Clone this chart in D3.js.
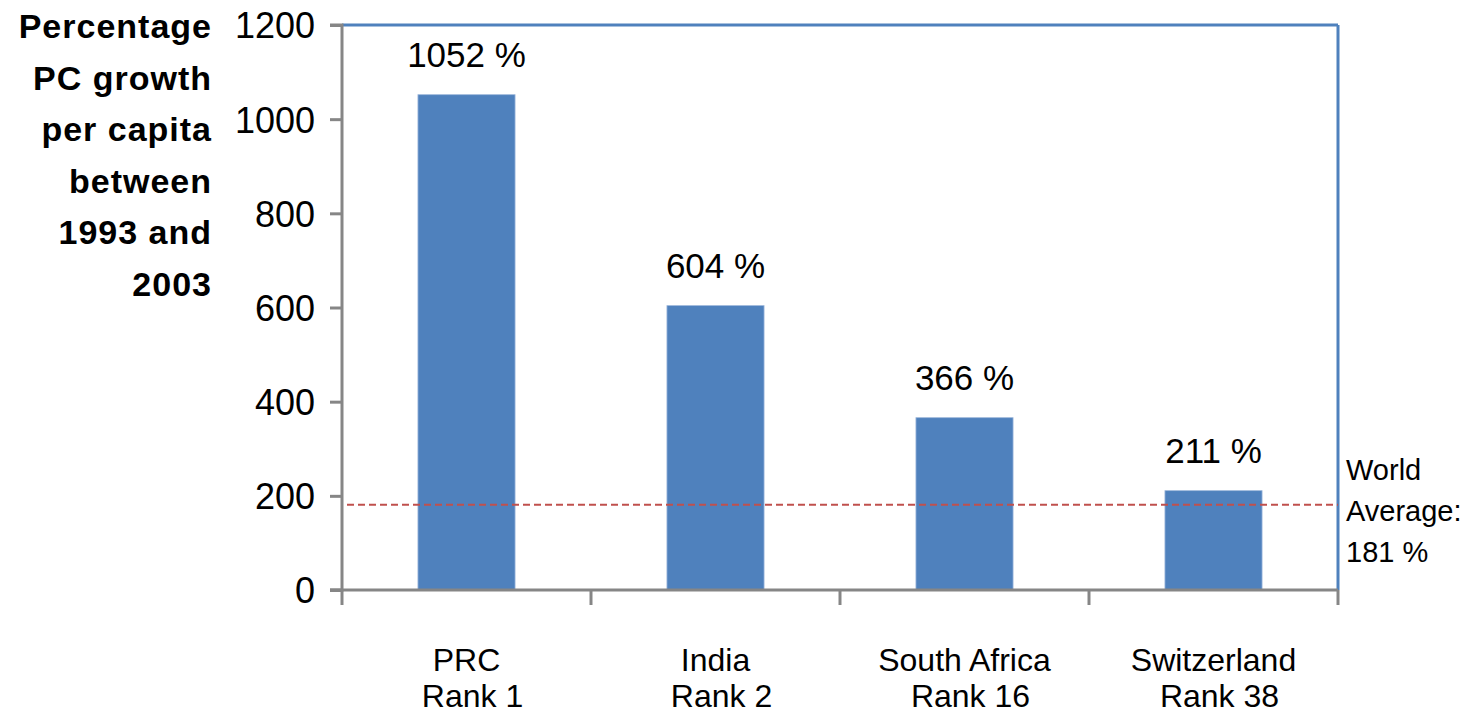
<!DOCTYPE html>
<html>
<head>
<meta charset="utf-8">
<script src="https://cdn.jsdelivr.net/npm/d3@7"></script>
<style>
html,body{margin:0;padding:0;background:#fff;}
svg{display:block;font-family:"Liberation Sans",Arial,sans-serif;}
</style>
</head>
<body>
<svg id="chart" width="1475" height="713"></svg>
<script>
const countries = ["PRC", "India", "South Africa", "Switzerland"];
const ranks = ["Rank 1", "Rank 2", "Rank 16", "Rank 38"];
const growth = [1052, 604, 366, 211];
const valueLabels = ["1052 %", "604 %", "366 %", "211 %"];
const worldAverage = 181;
const worldLabel = ["World", "Average:", "181 %"];
const yTicks = [0, 200, 400, 600, 800, 1000, 1200];
const titleLines = ["Percentage", "PC growth", "per capita", "between", "1993 and", "2003"];

const svg = d3.select("#chart");
const L = 342, R = 1338, T = 25, B = 590;

const x = d3.scaleBand().domain(countries).range([L, R]).paddingInner(0).paddingOuter(0);
const y = d3.scaleLinear().domain([0, 1200]).range([B, T]);
const barW = x.bandwidth() * 0.39;

// plot border (top & right, blue)
svg.append("line").attr("x1", L).attr("x2", R).attr("y1", T).attr("y2", T)
  .attr("stroke", "#4F81BD").attr("stroke-width", 3);
svg.append("line").attr("x1", R).attr("x2", R).attr("y1", T).attr("y2", B)
  .attr("stroke", "#4F81BD").attr("stroke-width", 3);

// bars
svg.selectAll("rect.bar").data(growth).join("rect")
  .attr("class", "bar")
  .attr("x", (d, i) => x(countries[i]) + (x.bandwidth() - barW) / 2)
  .attr("y", d => y(d))
  .attr("width", barW)
  .attr("height", d => y(0) - y(d))
  .attr("fill", "#4F81BD")
  .attr("stroke", "#9DB7DB").attr("stroke-width", 0.8);

// value labels
svg.selectAll("text.val").data(growth).join("text")
  .attr("class", "val")
  .attr("x", (d, i) => x(countries[i]) + x.bandwidth() / 2)
  .attr("y", d => y(d) - 28)
  .attr("text-anchor", "middle")
  .attr("font-size", 35)
  .attr("fill", "#000")
  .text((d, i) => valueLabels[i]);

// world average dashed line
svg.append("line")
  .attr("x1", L + 5).attr("x2", R)
  .attr("y1", y(worldAverage)).attr("y2", y(worldAverage))
  .attr("stroke", "#C0504D").attr("stroke-width", 2)
  .attr("stroke-dasharray", "7,4");

// y axis
const yAxis = d3.axisLeft(y).tickValues(yTicks).tickSize(12).tickPadding(15).tickFormat(d3.format("d"));
const gy = svg.append("g").attr("transform", `translate(${L},0)`).call(yAxis);
gy.select(".domain").attr("stroke", "#868686").attr("stroke-width", 3).attr("d", `M-12,${T}H0V${B}H-12`);
gy.selectAll(".tick line").attr("stroke", "#868686").attr("stroke-width", 3);
gy.selectAll(".tick text").attr("font-size", 36).attr("fill", "#000")
  .attr("font-family", "Liberation Sans, Arial, sans-serif").attr("dy", "0.36em");

// x axis baseline and ticks at category boundaries
svg.append("line").attr("x1", L - 12).attr("x2", R).attr("y1", B).attr("y2", B)
  .attr("stroke", "#868686").attr("stroke-width", 3);
const bounds = countries.map(c => x(c)).concat([R]);
svg.selectAll("line.xt").data(bounds).join("line")
  .attr("class", "xt")
  .attr("x1", d => d).attr("x2", d => d)
  .attr("y1", B).attr("y2", B + 15)
  .attr("stroke", "#868686").attr("stroke-width", 3);

// category labels (two separate lines)
svg.selectAll("text.cat").data(countries).join("text")
  .attr("class", "cat")
  .attr("text-anchor", "middle")
  .attr("font-size", 32)
  .attr("fill", "#000")
  .attr("x", d => x(d) + x.bandwidth() / 2)
  .attr("y", 671)
  .text(d => d);
svg.selectAll("text.rank").data(ranks).join("text")
  .attr("class", "rank")
  .attr("text-anchor", "middle")
  .attr("font-size", 32)
  .attr("fill", "#000")
  .attr("x", (d, i) => x(countries[i]) + x.bandwidth() / 2 + 6)
  .attr("y", 707)
  .text(d => d);

// world average label
const wl = svg.append("text").attr("font-size", 29).attr("fill", "#000");
worldLabel.forEach((t, i) => {
  wl.append("tspan").attr("x", 1346).attr("y", 480 + i * 41).text(t);
});

// y axis title
const tt = svg.append("text").attr("text-anchor", "end").attr("font-size", 34)
  .attr("font-weight", "bold").attr("fill", "#000").attr("letter-spacing", 1);
titleLines.forEach((t, i) => {
  tt.append("tspan").attr("x", 212).attr("y", 38 + i * 51.5).text(t);
});
</script>
</body>
</html>
